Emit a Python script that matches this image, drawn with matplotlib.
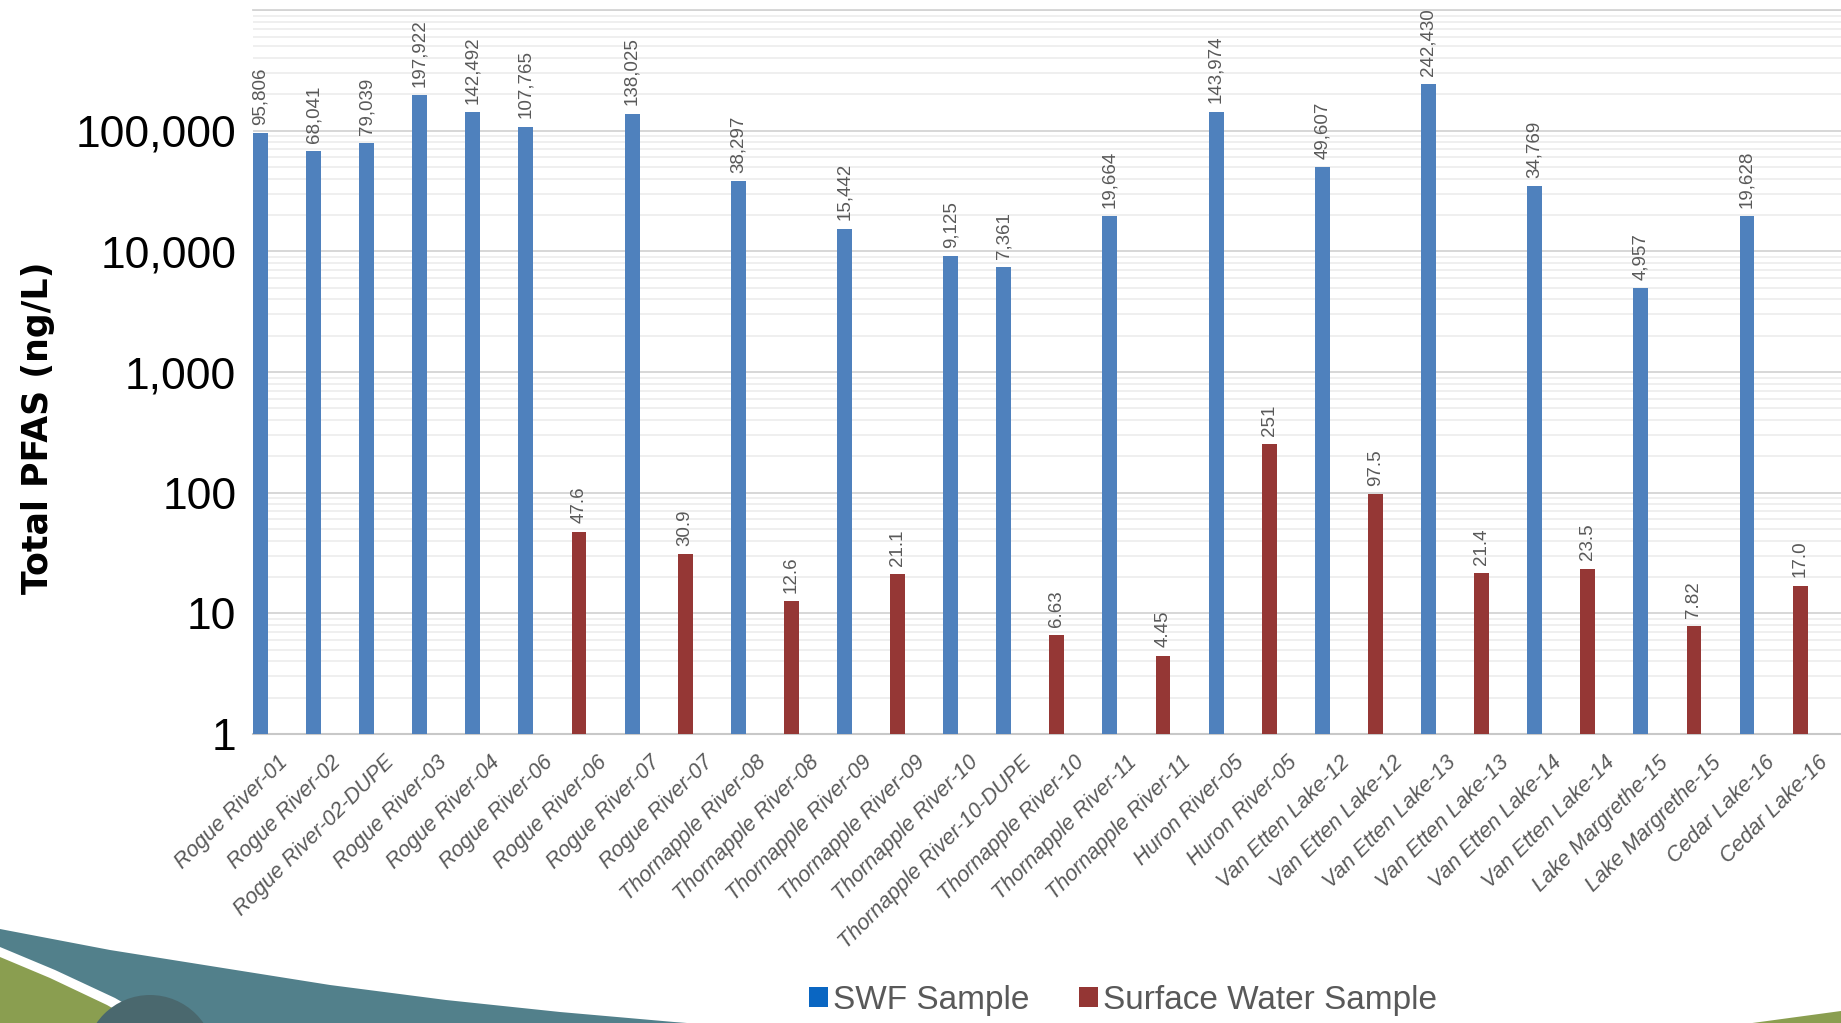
import matplotlib
matplotlib.use("Agg")
import matplotlib.pyplot as plt
import matplotlib.transforms as mtransforms
from matplotlib.patches import Patch, Polygon, Circle
from matplotlib.ticker import FixedLocator, NullFormatter
import math

# Données : total PFAS par échantillon
sites = ["Rogue River-01", "Rogue River-02", "Rogue River-02-DUPE", "Rogue River-03",
         "Rogue River-04", "Rogue River-06", "Rogue River-06", "Rogue River-07",
         "Rogue River-07", "Thornapple River-08", "Thornapple River-08",
         "Thornapple River-09", "Thornapple River-09", "Thornapple River-10",
         "Thornapple River-10-DUPE", "Thornapple River-10", "Thornapple River-11",
         "Thornapple River-11", "Huron River-05", "Huron River-05", "Van Etten Lake-12",
         "Van Etten Lake-12", "Van Etten Lake-13", "Van Etten Lake-13", "Van Etten Lake-14",
         "Van Etten Lake-14", "Lake Margrethe-15", "Lake Margrethe-15", "Cedar Lake-16",
         "Cedar Lake-16"]
values = [95806, 68041, 79039, 197922, 142492, 107765, 47.6, 138025, 30.9, 38297, 12.6,
          15442, 21.1, 9125, 7361, 6.63, 19664, 4.45, 143974, 251, 49607, 97.5, 242430,
          21.4, 34769, 23.5, 4957, 7.82, 19628, 17.0]
sample_type = ["SWF", "SWF", "SWF", "SWF", "SWF", "SWF", "SW", "SWF", "SW", "SWF", "SW",
               "SWF", "SW", "SWF", "SWF", "SW", "SWF", "SW", "SWF", "SW", "SWF", "SW", "SWF",
               "SW", "SWF", "SW", "SWF", "SW", "SWF", "SW"]
ytick_values = [1, 10, 100, 1000, 10000, 100000]

bar_colors = {"SWF": "#4F81BD", "SW": "#953735"}
legend_names = {"SWF": "SWF Sample", "SW": "Surface Water Sample"}
legend_colors = {"SWF": "#0A66C2", "SW": "#943634"}

W, H = 1841, 1023
sans = ["Liberation Sans", "DejaVu Sans"]


def fmt_value(v):
    # milliers avec virgule, sinon 3 chiffres significatifs
    if v >= 1000:
        return f"{v:,.0f}"
    dec = max(0, 2 - int(math.floor(math.log10(v))))
    return f"{v:.{dec}f}"


fig = plt.figure(figsize=(W / 100, H / 100), dpi=100)
ax = fig.add_axes([253 / W, 1 - 734 / H, 1 - 253 / W, (734 - 10) / H])

x = list(range(len(sites)))
ax.bar(x, values, width=0.28, color=[bar_colors[t] for t in sample_type], zorder=3)
ax.set_yscale("log")
ax.set_ylim(1, 1e6)
ax.set_xlim(-0.14, len(sites) - 0.23)

# Étiquettes de valeurs
for xi, v in zip(x, values):
    ax.annotate(fmt_value(v), (xi, v), xytext=(0, 6), textcoords="offset points",
                rotation=90, ha="center", va="bottom", fontsize=13.5, color="#595959",
                family=sans, zorder=4)

# Axe Y
ax.yaxis.set_major_locator(FixedLocator(ytick_values + [1e6]))
ax.set_yticklabels([f"{v:,}" for v in ytick_values] + [""])
ax.yaxis.set_minor_locator(FixedLocator([m * 10 ** d for d in range(6) for m in range(2, 10)]))
ax.yaxis.set_minor_formatter(NullFormatter())
ax.tick_params(axis="y", which="both", length=0, pad=12, labelsize=32, labelcolor="black")
for lab in ax.get_yticklabels():
    lab.set_family(sans)
ax.grid(True, which="major", axis="y", color="#D4D4D4", lw=1.3, zorder=0)
ax.grid(True, which="minor", axis="y", color="#EBEBEB", lw=1.1, zorder=0)
ax.set_ylabel("Total PFAS (ng/L)", fontsize=25, fontweight="bold")
ax.yaxis.set_label_coords(-(253 - 55) / (W - 253), (734 - 428) / (734 - 10))

# Axe X
ax.set_xticks(x)
ax.set_xticklabels(sites, rotation=45, rotation_mode="anchor", ha="right", va="top",
                   fontsize=15.5, style="italic", color="#595959", family=sans)
ax.tick_params(axis="x", length=0, pad=0)
offset = mtransforms.ScaledTranslation(17 / 100, -18 / 100, fig.dpi_scale_trans)
for lab in ax.get_xticklabels():
    lab.set_transform(lab.get_transform() + offset)

for s in ["left", "right"]:
    ax.spines[s].set_visible(False)
ax.spines["bottom"].set_color("#C8C8C8")
ax.spines["bottom"].set_linewidth(1.5)
ax.spines["top"].set_color("#D4D4D4")
ax.spines["top"].set_linewidth(1.3)

# Légende
handles = [Patch(facecolor=legend_colors[k], label=legend_names[k]) for k in ["SWF", "SW"]]
fig.legend(handles=handles, loc="center", bbox_to_anchor=(1123 / W, 1 - 1000 / H), ncol=2,
           frameon=False, handlelength=0.55, handleheight=0.55, handletextpad=0.15,
           columnspacing=1.5, prop={"family": sans, "size": 24}, labelcolor="#595959")

# Décor du bas (gabarit de la diapositive)
def px(pts):
    return [(a / W, 1 - b / H) for a, b in pts]

teal = [(0, 929), (110, 950), (223, 968), (330, 985), (446, 1000), (560, 1012),
        (674, 1022), (700, 1024), (0, 1024)]
white = [(0, 947), (55, 970), (115, 998), (160, 1024), (0, 1024)]
green = [(0, 957), (50, 978), (107, 1005), (140, 1024), (0, 1024)]
green_r = [(1745, 1024), (1841, 1011), (1841, 1024)]
fig.add_artist(Polygon(px(teal), closed=True, transform=fig.transFigure, color="#52808B", lw=0))
fig.add_artist(Polygon(px(white), closed=True, transform=fig.transFigure, color="white", lw=0))
fig.add_artist(Polygon(px(green), closed=True, transform=fig.transFigure, color="#8A9E50", lw=0))
fig.add_artist(Circle((150 / 100, (H - 1060) / 100), 65 / 100, transform=fig.dpi_scale_trans,
                      color="#4A686E", lw=0))
fig.add_artist(Polygon(px(green_r), closed=True, transform=fig.transFigure, color="#8A9E50", lw=0))

fig.savefig("out.png", dpi=100)
